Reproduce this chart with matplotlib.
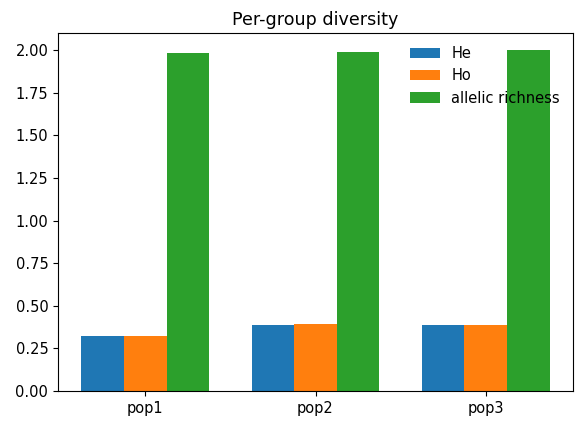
import numpy as np
import matplotlib.pyplot as plt

groups = ["pop1", "pop2", "pop3"]
he = [0.323, 0.387, 0.387]
ho = [0.323, 0.393, 0.387]
richness = [1.982, 1.988, 2.0]

plt.rcParams["font.size"] = 10.5

x = np.arange(len(groups))
w = 0.25

fig = plt.figure(figsize=(5.83, 4.28), dpi=100)
ax = fig.add_axes([58 / 583, 37 / 428, 515 / 583, 358 / 428])
ax.bar(x - w, he, w, label="He")
ax.bar(x, ho, w, label="Ho")
ax.bar(x + w, richness, w, label="allelic richness")
ax.set_xticks(x)
ax.set_xticklabels(groups)
ax.set_title("Per-group diversity")
ax.legend(frameon=False)
fig.savefig("out.png")
